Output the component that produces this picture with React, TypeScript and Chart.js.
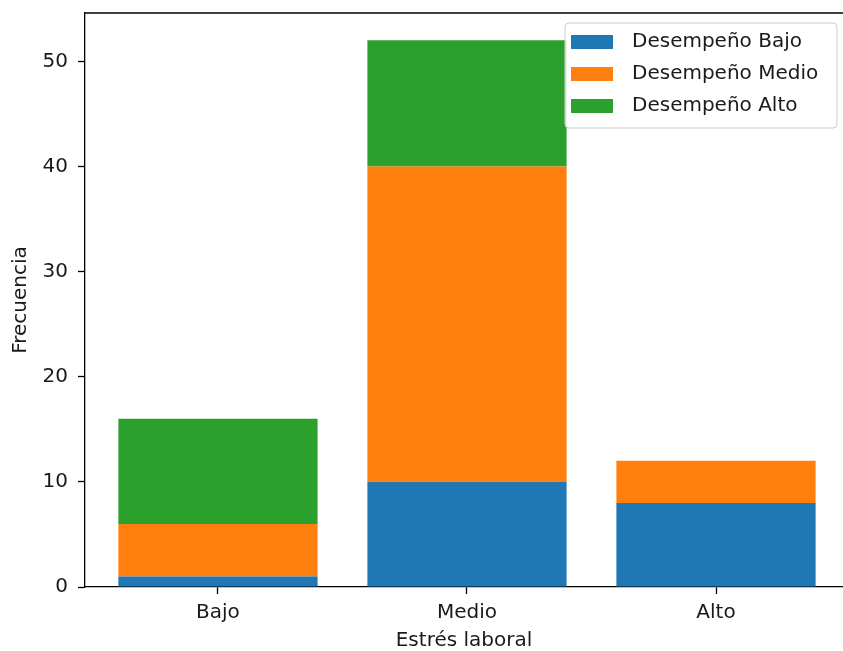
import React, { useEffect, useRef } from "react";
import { Chart, registerables } from "chart.js";

Chart.register(...registerables);

const categories = ["Bajo", "Medio", "Alto"];
const seriesNames = ["Desempeño Bajo", "Desempeño Medio", "Desempeño Alto"];
const desempenoBajo = [1, 10, 8];
const desempenoMedio = [5, 30, 4];
const desempenoAlto = [10, 12, 0];
const colors = ["#1f77b4", "#ff7f0e", "#2ca02c"];
const yTicks = [0, 10, 20, 30, 40, 50];
const xTitle = "Estrés laboral";
const yTitle = "Frecuencia";

const FONT = "'DejaVu Sans', sans-serif";
const FS = 20;

const framePlugin = {
  id: "frameLegend",
  afterDraw(chart: any) {
    const { ctx, chartArea } = chart;
    ctx.save();
    // top spine
    ctx.strokeStyle = "#000";
    ctx.lineWidth = 1.3;
    ctx.beginPath();
    ctx.moveTo(chartArea.left, chartArea.top);
    ctx.lineTo(chartArea.right, chartArea.top);
    ctx.stroke();

    // legend
    const x0 = 565, y0 = 23, w = 272, h = 105, r = 4;
    ctx.beginPath();
    ctx.moveTo(x0 + r, y0);
    ctx.lineTo(x0 + w - r, y0);
    ctx.quadraticCurveTo(x0 + w, y0, x0 + w, y0 + r);
    ctx.lineTo(x0 + w, y0 + h - r);
    ctx.quadraticCurveTo(x0 + w, y0 + h, x0 + w - r, y0 + h);
    ctx.lineTo(x0 + r, y0 + h);
    ctx.quadraticCurveTo(x0, y0 + h, x0, y0 + h - r);
    ctx.lineTo(x0, y0 + r);
    ctx.quadraticCurveTo(x0, y0, x0 + r, y0);
    ctx.closePath();
    ctx.fillStyle = "rgba(255,255,255,0.8)";
    ctx.fill();
    ctx.strokeStyle = "#cccccc";
    ctx.lineWidth = 1;
    ctx.stroke();

    ctx.font = `${FS}px ${FONT}`;
    ctx.textBaseline = "middle";
    ctx.textAlign = "left";
    seriesNames.forEach((name, i) => {
      const cy = 42 + i * 32;
      ctx.fillStyle = colors[i];
      ctx.fillRect(571, cy - 7, 42, 14);
      ctx.fillStyle = "#1a1a1a";
      ctx.fillText(name, 632, cy);
    });
    ctx.restore();
  },
};

export default function App() {
  const ref = useRef<HTMLCanvasElement | null>(null);

  useEffect(() => {
    if (!ref.current) return;
    const series = [desempenoBajo, desempenoMedio, desempenoAlto];
    const chart = new Chart(ref.current, {
      type: "bar",
      data: {
        datasets: series.map((vals, i) => ({
          label: seriesNames[i],
          data: vals.map((v, j) => ({ x: j, y: v })),
          backgroundColor: colors[i],
          borderWidth: 0,
          barPercentage: 0.8,
          categoryPercentage: 1,
        })),
      },
      options: {
        animation: false,
        responsive: true,
        maintainAspectRatio: false,
        layout: { padding: { top: 13, left: 0, right: 0, bottom: 0 } },
        plugins: { legend: { display: false }, tooltip: { enabled: false } },
        scales: {
          x: {
            type: "linear",
            stacked: true,
            offset: false,
            min: -0.534,
            max: 2.51,
            afterBuildTicks: (axis: any) => {
              axis.ticks = categories.map((_, i) => ({ value: i }));
            },
            afterFit: (s: any) => {
              s.height = 64;
              s.paddingLeft = 0;
              s.paddingRight = 0;
            },
            ticks: {
              callback: (v: any) => categories[v] ?? "",
              color: "#1a1a1a",
              font: { family: FONT, size: FS },
              padding: 7,
              maxRotation: 0,
              autoSkip: false,
            },
            grid: {
              offset: false,
              drawOnChartArea: false,
              drawTicks: true,
              tickLength: 7,
              tickColor: "#000",
              tickWidth: 1.3,
            },
            border: { color: "#000", width: 1.3 },
            title: {
              display: true,
              text: xTitle,
              color: "#1a1a1a",
              font: { family: FONT, size: FS },
              padding: { top: 0, bottom: -2 },
            },
          },
          y: {
            stacked: true,
            min: 0,
            max: 54.6,
            afterBuildTicks: (axis: any) => {
              axis.ticks = yTicks.map((v) => ({ value: v }));
            },
            afterFit: (s: any) => {
              s.width = 85;
              s.paddingTop = 0;
              s.paddingBottom = 0;
            },
            ticks: {
              color: "#1a1a1a",
              font: { family: FONT, size: FS },
              padding: 10,
            },
            grid: {
              drawOnChartArea: false,
              drawTicks: true,
              tickLength: 7,
              tickColor: "#000",
              tickWidth: 1.3,
            },
            border: { color: "#000", width: 1.3 },
            title: {
              display: true,
              text: yTitle,
              color: "#1a1a1a",
              font: { family: FONT, size: FS },
              padding: { top: 9, bottom: 0 },
            },
          },
        },
      },
      plugins: [framePlugin],
    } as any);
    return () => chart.destroy();
  }, []);

  return (
    <div style={{ position: "fixed", left: 0, top: 0, width: 843, height: 651, background: "#fff" }}>
      <canvas ref={ref} />
    </div>
  );
}
